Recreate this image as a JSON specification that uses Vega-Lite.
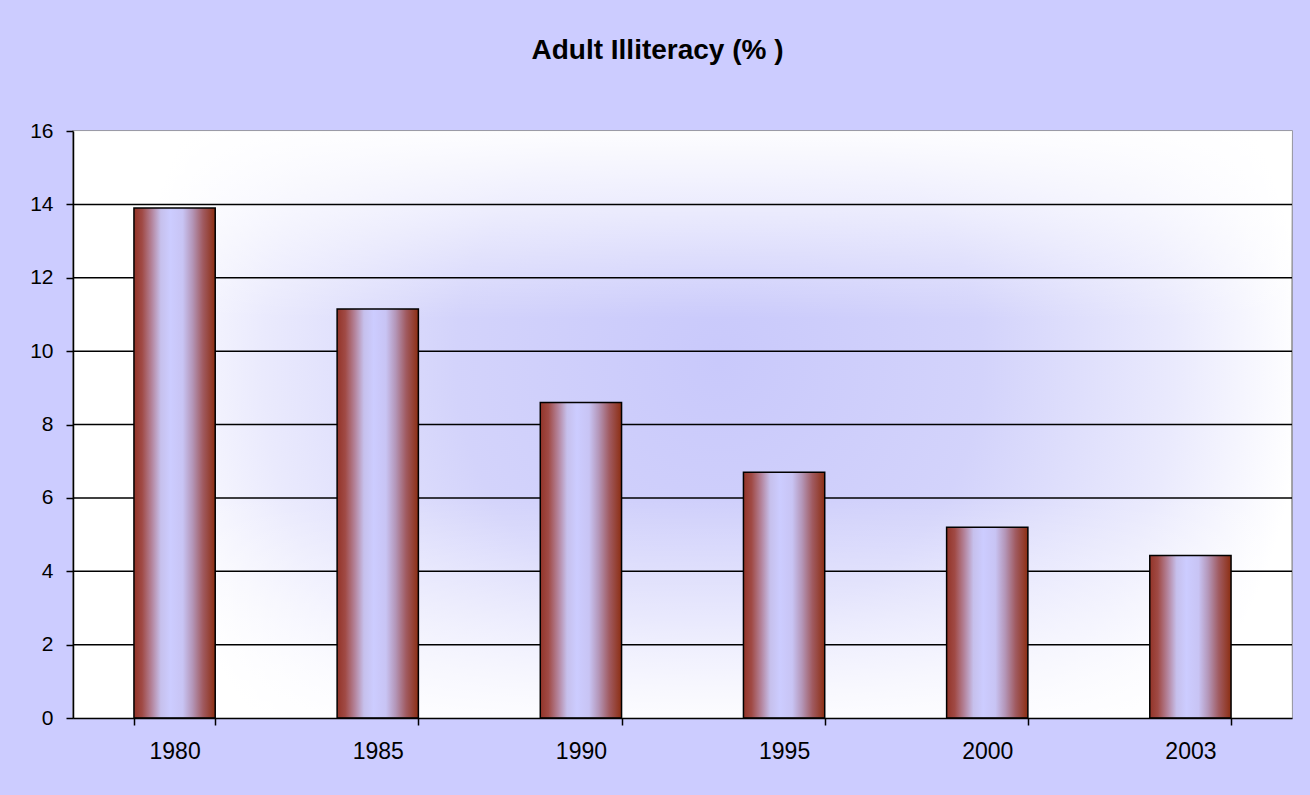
{
  "$schema": "https://vega.github.io/schema/vega-lite/v6.json",
  "width": 1219,
  "height": 587,
  "autosize": {"type": "none"},
  "padding": {"left": 73, "top": 131, "right": 18, "bottom": 77},
  "background": "#ccccff",
  "title": {
    "text": "Adult Illiteracy (% )",
    "font": "Liberation Sans",
    "fontSize": 28,
    "fontWeight": "bold",
    "color": "#000000",
    "baseline": "alphabetic",
    "anchor": "middle",
    "offset": 33,
    "dx": -25
  },
  "view": {
    "stroke": "#8a8a8a",
    "strokeWidth": 1.5,
    "fill": {
      "gradient": "radial",
      "x1": 0.53, "y1": 0.45, "x2": 0.53, "y2": 0.45,
      "r1": 0, "r2": 0.48,
      "stops": [
        {"offset": 0, "color": "#c9c9fb"},
        {"offset": 0.45, "color": "#d3d3fb"},
        {"offset": 0.78, "color": "#eaeafd"},
        {"offset": 1, "color": "#ffffff"}
      ]
    }
  },
  "datasets": {
    "illiteracy": [
      {"year": "1980", "illiteracy": 13.9},
      {"year": "1985", "illiteracy": 11.15},
      {"year": "1990", "illiteracy": 8.6},
      {"year": "1995", "illiteracy": 6.7},
      {"year": "2000", "illiteracy": 5.2},
      {"year": "2003", "illiteracy": 4.43}
    ],
    "gridlines": [
      {"level": 2}, {"level": 4}, {"level": 6}, {"level": 8},
      {"level": 10}, {"level": 12}, {"level": 14}
    ],
    "panel": [{"top": 16, "bottom": 0}]
  },
  "layer": [
    {
      "data": {"name": "panel"},
      "mark": {
        "type": "rect",
        "fill": {
          "gradient": "linear",
          "x1": 0, "y1": 0, "x2": 0, "y2": 1,
          "stops": [
            {"offset": 0, "color": "rgba(255,255,255,0.95)"},
            {"offset": 0.13, "color": "rgba(255,255,255,0.6)"},
            {"offset": 0.32, "color": "rgba(255,255,255,0)"},
            {"offset": 0.62, "color": "rgba(255,255,255,0)"},
            {"offset": 0.85, "color": "rgba(255,255,255,0.55)"},
            {"offset": 1, "color": "rgba(255,255,255,0.9)"}
          ]
        }
      },
      "encoding": {
        "y": {
          "field": "top", "type": "quantitative", "title": null,
          "scale": {"domain": [0, 16], "nice": false},
          "axis": {
            "values": [0, 2, 4, 6, 8, 10, 12, 14, 16],
            "grid": false, "domain": true, "ticks": true, "zindex": 1,
            "tickSize": 7, "tickWidth": 1.5, "tickColor": "#000000",
            "domainColor": "#000000", "domainWidth": 1.5,
            "labelFont": "Liberation Sans", "labelFontSize": 21,
            "labelColor": "#000000", "labelPadding": 13
          }
        },
        "y2": {"field": "bottom"}
      }
    },
    {
      "data": {"name": "gridlines"},
      "mark": {"type": "rule", "color": "#000000", "strokeWidth": 1.5},
      "encoding": {
        "y": {
          "field": "level", "type": "quantitative", "title": null,
          "scale": {"domain": [0, 16], "nice": false},
          "axis": {
            "values": [0, 2, 4, 6, 8, 10, 12, 14, 16],
            "grid": false, "domain": true, "ticks": true, "zindex": 1,
            "tickSize": 7, "tickWidth": 1.5, "tickColor": "#000000",
            "domainColor": "#000000", "domainWidth": 1.5,
            "labelFont": "Liberation Sans", "labelFontSize": 21,
            "labelColor": "#000000", "labelPadding": 13
          }
        }
      }
    },
    {
      "data": {"name": "illiteracy"},
      "mark": {
        "type": "bar",
        "stroke": "#000000",
        "strokeWidth": 1.5,
        "fill": {
          "gradient": "linear",
          "x1": 0, "y1": 0, "x2": 1, "y2": 0,
          "stops": [
            {"offset": 0, "color": "#933428"},
            {"offset": 0.1, "color": "#a04a45"},
            {"offset": 0.22, "color": "#b4849c"},
            {"offset": 0.33, "color": "#c6c0ec"},
            {"offset": 0.45, "color": "#ccccff"},
            {"offset": 0.6, "color": "#c8c4f4"},
            {"offset": 0.72, "color": "#b496b8"},
            {"offset": 0.85, "color": "#a05a60"},
            {"offset": 1, "color": "#8c2e12"}
          ]
        }
      },
      "encoding": {
        "x": {
          "field": "year",
          "type": "ordinal",
          "sort": null,
          "scale": {"paddingInner": 0.6, "paddingOuter": 0.3},
          "axis": {
            "title": null,
            "labelAngle": 0,
            "tickBand": "extent",
            "zindex": 1,
            "tickSize": 7,
            "tickWidth": 1.5,
            "tickColor": "#000000",
            "domainColor": "#000000",
            "domainWidth": 1.5,
            "labelFont": "Liberation Sans",
            "labelFontSize": 23,
            "labelColor": "#000000",
            "labelPadding": 15
          }
        },
        "y": {
          "field": "illiteracy",
          "type": "quantitative",
          "title": null,
          "scale": {"domain": [0, 16], "nice": false},
          "axis": {
            "values": [0, 2, 4, 6, 8, 10, 12, 14, 16],
            "grid": false, "domain": true, "ticks": true, "zindex": 1,
            "tickSize": 7, "tickWidth": 1.5, "tickColor": "#000000",
            "domainColor": "#000000", "domainWidth": 1.5,
            "labelFont": "Liberation Sans", "labelFontSize": 21,
            "labelColor": "#000000", "labelPadding": 13
          }
        }
      }
    }
  ]
}
